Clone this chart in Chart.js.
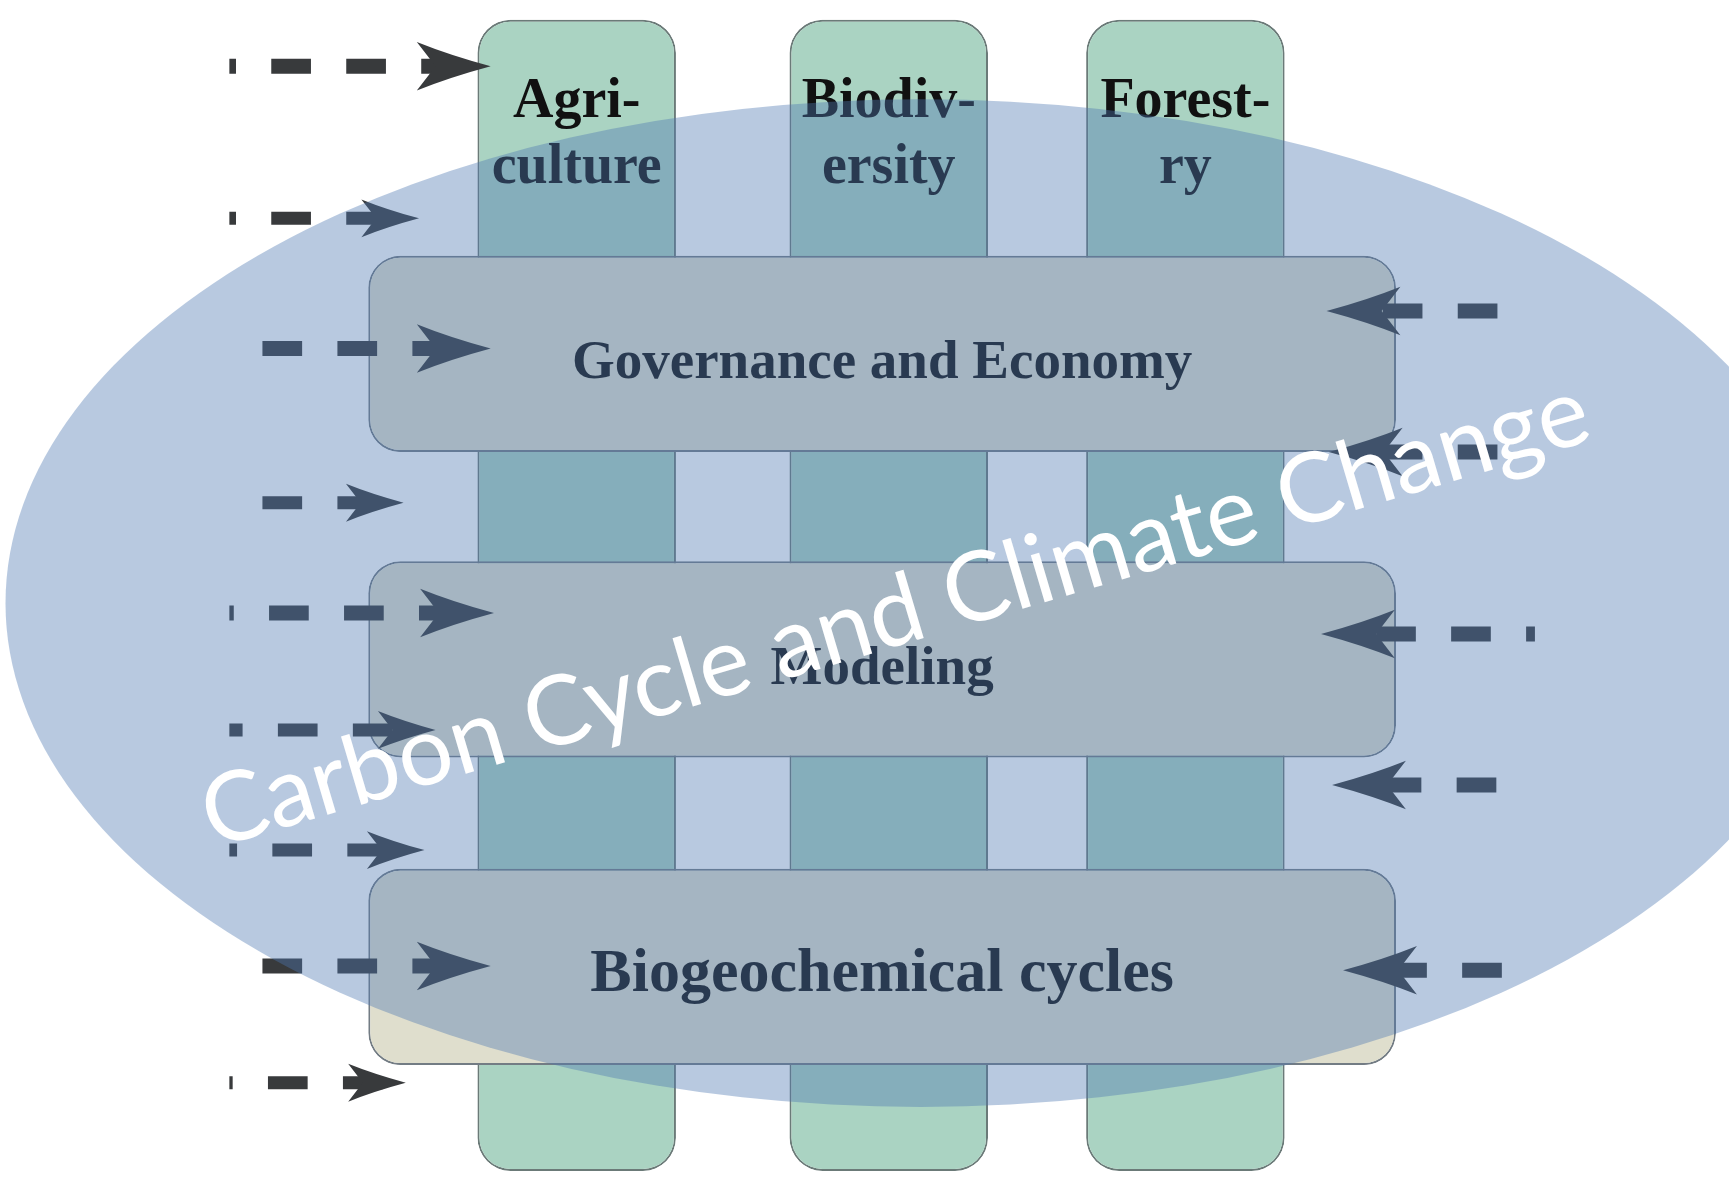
<!DOCTYPE html>
<html>
<head>
<meta charset="utf-8">
<title>Carbon Cycle and Climate Change</title>
<script src="https://cdn.jsdelivr.net/npm/chart.js@4.4.1/dist/chart.umd.min.js"></script>
<style>
  html, body { margin: 0; padding: 0; background: #fff; }
  #wrap { width: 1729px; height: 1182px; }
</style>
</head>
<body>
<div id="wrap"><canvas id="diagram"></canvas></div>
<script>
// the figure is laid out on a 1568 x 1072 grid (y grows downward)
const gridW = 1568, gridH = 1072;

// vertical pillars
const pillarLabels = [['Agri-', 'culture'], ['Biodiv-', 'ersity'], ['Forest-', 'ry']];
const pillarLeft = [433, 716, 985];
const pillarRight = [613, 896, 1165];
const pillarTop = 18, pillarBottom = 1062;

// horizontal layers
const layerLabels = ['Governance and Economy', 'Modeling', 'Biogeochemical cycles'];
const layerTop = [232, 510, 789];
const layerBottom = [410, 686, 965];
const layerLeft = 334, layerRight = 1266;

// dashed arrows (9 from the left, 5 from the right)
const arrowY    = [60, 198, 316, 456, 556, 662, 771, 876, 982, 282, 410, 575, 712, 880];
const arrowTip  = [445, 380, 445, 366, 448, 395, 385, 445, 368, 1203, 1205, 1198, 1208, 1218];
const arrowTail = [178, 178, 238, 238, 176, 184, 179, 238, 175, 1358, 1358, 1420, 1357, 1362];
const arrowBig  = [1, 0, 1, 0, 1, 0, 0, 1, 0, 1, 1, 1, 1, 1];

// overlay: centre x, centre y, radius x, radius y
const overlay = [835, 547, 830, 457];
const overlayTitle = 'Carbon Cycle and Climate Change';
const overlayTitleAt = [820, 584];
const overlayTitleLen = 1307;
const overlayTitleAngle = -16.5;

// visible strip of the original figure
const clipLeft = 208, clipRight = 1392;

const unit = 1729 / gridW;
const ink = '#383a3c';

const centre = (a, b) => a.map((v, i) => (v + b[i]) / 2);
const minGap = arr => {
  let m = Infinity;
  for (let i = 1; i < arr.length; i++) m = Math.min(m, Math.abs(arr[i] - arr[i - 1]));
  return m;
};

const pillarMid = centre(pillarLeft, pillarRight);
const layerMid = centre(layerTop, layerBottom);

const flat = (axis, max, reverse) => ({
  type: 'linear', axis: axis, display: false, offset: false,
  min: 0, max: max, reverse: reverse,
  afterBuildTicks: s => { s.ticks = [{ value: s.min }, { value: s.max }]; }
});

const pillarSet = {
  label: 'pillars',
  data: pillarMid.map(x => ({ x: x, y: [pillarTop, pillarBottom] })),
  xAxisID: 'x', yAxisID: 'y',
  backgroundColor: '#aad3c2',
  borderColor: '#6b7a78',
  borderWidth: 2,
  borderSkipped: false,
  borderRadius: 33,
  grouped: false,
  categoryPercentage: 1,
  barPercentage: (pillarRight[0] - pillarLeft[0]) / minGap(pillarMid),
  order: 2
};

const layerSet = {
  label: 'layers',
  indexAxis: 'y',
  data: layerMid.map(y => ({ y: y, x: [layerLeft, layerRight] })),
  xAxisID: 'x2', yAxisID: 'y2',
  backgroundColor: '#dfdecd',
  borderColor: '#737c84',
  borderWidth: 2,
  borderSkipped: false,
  borderRadius: 32,
  grouped: false,
  categoryPercentage: 1,
  barPercentage: (layerBottom[0] - layerTop[0]) / minGap(layerMid),
  order: 1
};

const arrowSets = arrowY.map((y, i) => {
  const dir = arrowTip[i] > arrowTail[i] ? 1 : -1;
  const s = arrowBig[i] ? 1 : 0.78;
  return {
    type: 'line',
    label: 'arrow' + i,
    data: [{ x: arrowTail[i], y: y }, { x: arrowTip[i] - dir * 24 * s, y: y }],
    xAxisID: 'x', yAxisID: 'y',
    borderColor: ink,
    borderWidth: arrowBig[i] ? 15 : 13,
    borderDash: [36 * unit, 32 * unit],
    borderCapStyle: 'butt',
    pointRadius: 0,
    tension: 0,
    fill: false,
    clip: { left: -clipLeft * unit, right: -(gridW - clipRight) * unit, top: false, bottom: false },
    order: 0
  };
});

const figure = {
  id: 'figure',
  afterDatasetsDraw(chart) {
    const ctx = chart.ctx;
    const sx = chart.scales.x, sy = chart.scales.y;
    ctx.save();

    // arrow heads
    ctx.fillStyle = ink;
    arrowY.forEach((y, i) => {
      const dir = arrowTip[i] > arrowTail[i] ? 1 : -1;
      const s = arrowBig[i] ? 1 : 0.78;
      const x0 = sx.getPixelForValue(arrowTip[i]);
      const y0 = sy.getPixelForValue(y);
      const len = 67 * unit * s, half = 22 * unit * s, notch = 17 * unit * s;
      ctx.beginPath();
      ctx.moveTo(x0, y0);
      ctx.quadraticCurveTo(x0 - dir * len * 0.55, y0 - half * 0.45, x0 - dir * len, y0 - half);
      ctx.lineTo(x0 - dir * (len - notch), y0);
      ctx.lineTo(x0 - dir * len, y0 + half);
      ctx.quadraticCurveTo(x0 - dir * len * 0.55, y0 + half * 0.45, x0, y0);
      ctx.closePath();
      ctx.fill();
    });

    // pillar titles
    ctx.fillStyle = '#111';
    ctx.textAlign = 'center';
    ctx.textBaseline = 'alphabetic';
    ctx.font = 'bold 56px "Liberation Serif", "Times New Roman", serif';
    const titleBase = [106, 166];
    pillarMid.forEach((x, i) => {
      pillarLabels[i].forEach((t, j) => {
        ctx.fillText(t, sx.getPixelForValue(x), sy.getPixelForValue(titleBase[j]));
      });
    });

    // layer labels
    const layerFont = [55, 55, 62];
    layerMid.forEach((y, i) => {
      ctx.font = 'bold ' + layerFont[i] + 'px "Liberation Serif", "Times New Roman", serif';
      ctx.fillText(layerLabels[i], sx.getPixelForValue((layerLeft + layerRight) / 2), sy.getPixelForValue(y + 22));
    });

    // climate overlay
    const cx = sx.getPixelForValue(overlay[0]), cy = sy.getPixelForValue(overlay[1]);
    const rx = sx.getPixelForValue(overlay[0] + overlay[2]) - cx;
    const ry = sy.getPixelForValue(overlay[1] + overlay[3]) - cy;
    ctx.fillStyle = 'rgba(77, 120, 177, 0.4)';
    ctx.beginPath();
    ctx.ellipse(cx, cy, Math.abs(rx), Math.abs(ry), 0, 0, Math.PI * 2);
    ctx.fill();

    // overlay title
    const tx = sx.getPixelForValue(overlayTitleAt[0]), ty = sy.getPixelForValue(overlayTitleAt[1]);
    ctx.font = '400 100px Lato, "Open Sans", sans-serif';
    const w = ctx.measureText(overlayTitle).width;
    const size = 100 * (overlayTitleLen * unit) / w;
    ctx.font = '400 ' + size.toFixed(1) + 'px Lato, "Open Sans", sans-serif';
    ctx.translate(tx, ty);
    ctx.rotate(overlayTitleAngle * Math.PI / 180);
    ctx.fillStyle = '#ffffff';
    ctx.fillText(overlayTitle, 0, 0);
    ctx.restore();
  }
};

new Chart(document.getElementById('diagram'), {
  type: 'bar',
  data: { datasets: [pillarSet, layerSet].concat(arrowSets) },
  options: {
    responsive: true,
    maintainAspectRatio: false,
    animation: false,
    events: [],
    layout: { padding: 0 },
    plugins: { legend: { display: false }, tooltip: { enabled: false }, title: { display: false } },
    scales: {
      x: flat('x', gridW, false),
      y: flat('y', gridH, true),
      x2: flat('x', gridW, false),
      y2: flat('y', gridH, true)
    }
  },
  plugins: [figure]
});
</script>
</body>
</html>
